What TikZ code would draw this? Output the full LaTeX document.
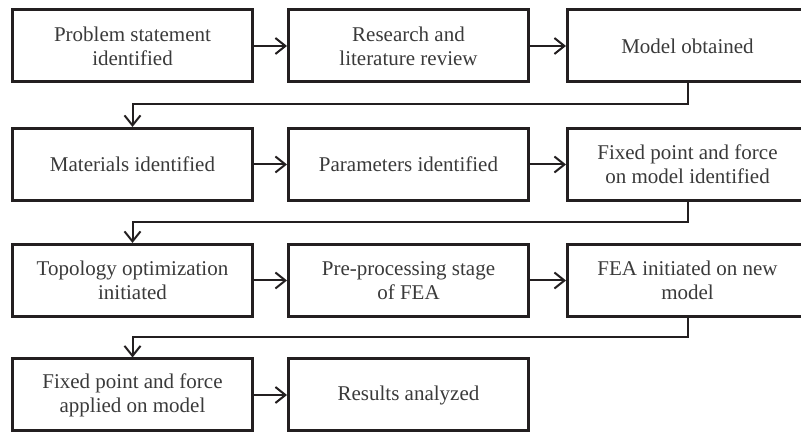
\documentclass[tikz,border=0pt]{standalone}
\usepackage{fontspec}
\setmainfont{Liberation Serif}
\usetikzlibrary{arrows.meta}
\definecolor{inkline}{HTML}{231F20}
\definecolor{inktext}{HTML}{3A3A3A}
\begin{document}
\begin{tikzpicture}[x=1pt,y=-1pt,
	stage/.style={draw=inkline,line width=3pt,minimum width=240pt,minimum height=72pt,
		align=center,text=inktext,font=\fontsize{21}{24}\selectfont,inner sep=0pt},
	flow/.style={draw=inkline,line width=2pt,-{Straight Barb[length=10pt,width=16pt,line width=2pt]}}]
	\useasboundingbox (0,0) rectangle (801,435);
	% row 1
	\node[stage] (problem) at (132.5,46) {Problem statement\\identified};
	\node[stage] (research) at (408.5,46) {Research and\\literature review};
	\node[stage] (model) at (687.5,46) {Model obtained};
	% row 2
	\node[stage] (materials) at (132.5,164.5) {Materials identified};
	\node[stage] (params) at (408.5,164.5) {Parameters identified};
	\node[stage] (fixed) at (687.5,164.5) {Fixed point and force\\on model identified};
	% row 3
	\node[stage] (topo) at (132.5,280.5) {Topology optimization\\initiated};
	\node[stage] (preproc) at (408.5,280.5) {Pre-processing stage\\of FEA};
	\node[stage] (fea) at (687.5,280.5) {FEA initiated on new\\model};
	% row 4
	\node[stage] (applied) at (132.5,395) {Fixed point and force\\applied on model};
	\node[stage] (results) at (408.5,395) {Results analyzed};

	\coordinate (bend1) at (0,104);
	\coordinate (bend2) at (0,222);
	\coordinate (bend3) at (0,337);

	\draw[flow] (problem) -- (research);
	\draw[flow] (research) -- (model);
	\draw[flow] (model.south) -- (model.south |- bend1) -| (materials.north);
	\draw[flow] (materials) -- (params);
	\draw[flow] (params) -- (fixed);
	\draw[flow] (fixed.south) -- (fixed.south |- bend2) -| (topo.north);
	\draw[flow] (topo) -- (preproc);
	\draw[flow] (preproc) -- (fea);
	\draw[flow] (fea.south) -- (fea.south |- bend3) -| (applied.north);
	\draw[flow] (applied) -- (results);
\end{tikzpicture}
\end{document}
